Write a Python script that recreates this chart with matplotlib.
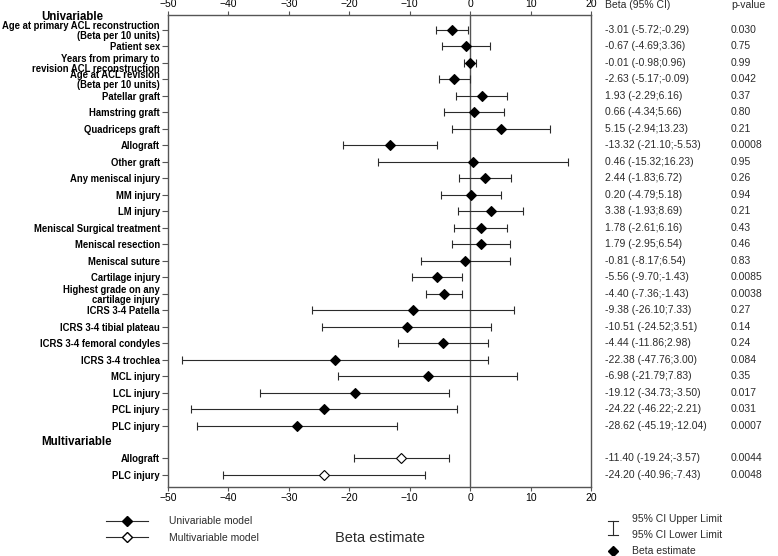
import numpy as np
import matplotlib.pyplot as plt
from matplotlib.lines import Line2D
from matplotlib.transforms import blended_transform_factory

plt.rcParams['font.family'] = ['Liberation Sans', 'DejaVu Sans']

# univariable rows
uni_labels = [
    "Age at primary ACL reconstruction\n(Beta per 10 units)",
    "Patient sex",
    "Years from primary to\nrevision ACL reconstruction",
    "Age at ACL revision\n(Beta per 10 units)",
    "Patellar graft", "Hamstring graft", "Quadriceps graft", "Allograft",
    "Other graft", "Any meniscal injury", "MM injury", "LM injury",
    "Meniscal Surgical treatment", "Meniscal resection", "Meniscal suture",
    "Cartilage injury", "Highest grade on any\ncartilage injury",
    "ICRS 3-4 Patella", "ICRS 3-4 tibial plateau", "ICRS 3-4 femoral condyles",
    "ICRS 3-4 trochlea", "MCL injury", "LCL injury", "PCL injury", "PLC injury",
]
uni_beta = [-3.01, -0.67, -0.01, -2.63, 1.93, 0.66, 5.15, -13.32, 0.46, 2.44, 0.20,
            3.38, 1.78, 1.79, -0.81, -5.56, -4.40, -9.38, -10.51, -4.44, -22.38,
            -6.98, -19.12, -24.22, -28.62]
uni_lo = [-5.72, -4.69, -0.98, -5.17, -2.29, -4.34, -2.94, -21.10, -15.32, -1.83, -4.79,
          -1.93, -2.61, -2.95, -8.17, -9.70, -7.36, -26.10, -24.52, -11.86, -47.76,
          -21.79, -34.73, -46.22, -45.19]
uni_hi = [-0.29, 3.36, 0.96, -0.09, 6.16, 5.66, 13.23, -5.53, 16.23, 6.72, 5.18,
          8.69, 6.16, 6.54, 6.54, -1.43, -1.43, 7.33, 3.51, 2.98, 3.00,
          7.83, -3.50, -2.21, -12.04]
uni_p = ["0.030", "0.75", "0.99", "0.042", "0.37", "0.80", "0.21", "0.0008", "0.95",
         "0.26", "0.94", "0.21", "0.43", "0.46", "0.83", "0.0085", "0.0038", "0.27",
         "0.14", "0.24", "0.084", "0.35", "0.017", "0.031", "0.0007"]

# multivariable rows
multi_labels = ["Allograft", "PLC injury"]
multi_beta = [-11.40, -24.20]
multi_lo = [-19.24, -40.96]
multi_hi = [-3.57, -7.43]
multi_p = ["0.0044", "0.0048"]

xticks = [-50, -40, -30, -20, -10, 0, 10, 20]

dark = '#2b2b2b'
fig = plt.figure(figsize=(7.78, 5.56), dpi=100)
ax = fig.add_axes([168 / 778, 1 - 487 / 556, (591 - 168) / 778, (487 - 15) / 556])

n_uni = len(uni_labels)
y_uni = np.arange(n_uni)
y_multi = np.arange(len(multi_labels)) + n_uni + 1

def draw(y, beta, lo, hi, face):
    beta = np.array(beta)
    err = [beta - np.array(lo), np.array(hi) - beta]
    ax.errorbar(beta, y, xerr=err, fmt='D', ms=5, mfc=face, mec='black', mew=0.8,
                ecolor=dark, elinewidth=0.8, capsize=3.2, capthick=0.8, zorder=3)

draw(y_uni, uni_beta, uni_lo, uni_hi, 'black')
draw(y_multi, multi_beta, multi_lo, multi_hi, 'white')

ax.axvline(0, color='#555555', lw=1.0, zorder=1)
ax.set_xlim(-50, 20)
ax.set_ylim(27.73, -0.91)
ax.set_xticks(xticks)
ax.tick_params(axis='x', top=True, labeltop=True, labelsize=7.5, length=3,
               color='#555555', pad=1)
ax.set_yticks(list(y_uni) + list(y_multi))
ax.set_yticklabels(uni_labels + multi_labels, fontweight='bold', fontsize=6.85,
                   multialignment='right', linespacing=1.0)
ax.tick_params(axis='y', length=4, color='#555555', pad=1.8)
for s in ax.spines.values():
    s.set_color('#555555')
    s.set_linewidth(1.0)

# section headings
tr = blended_transform_factory(fig.transFigure, ax.transData)
ax.text(41 / 778, -0.8, "Univariable", transform=tr, fontsize=8.3, fontweight='bold',
        va='center', ha='left', clip_on=False)
ax.text(41 / 778, n_uni, "Multivariable", transform=tr, fontsize=8.3, fontweight='bold',
        va='center', ha='left', clip_on=False)

# right columns
col1 = 605 / 778
col2 = 731 / 778
fig.text(col1, 1 - 5 / 556, "Beta (95% CI)", fontsize=7.5, va='center', color=dark)
fig.text(col2, 1 - 5 / 556, "p-value", fontsize=7.5, va='center', color=dark)
for y, b, lo, hi, p in zip(list(y_uni) + list(y_multi), uni_beta + multi_beta,
                           uni_lo + multi_lo, uni_hi + multi_hi, uni_p + multi_p):
    ax.text(col1, y, f"{b:.2f} ({lo:.2f};{hi:.2f})", transform=tr, fontsize=7.5,
            va='center', color=dark, clip_on=False)
    ax.text(col2, y, p, transform=tr, fontsize=7.5, va='center', color=dark,
            clip_on=False)

fig.text(380 / 778, 1 - 538 / 556, "Beta estimate", fontsize=10.5, ha='center',
         va='center', color=dark)

# left legend
handles = [
    Line2D([], [], color=dark, lw=0.8, marker='D', ms=5, mfc='black', mec='black'),
    Line2D([], [], color=dark, lw=0.8, marker='D', ms=5, mfc='white', mec='black'),
]
fig.legend(handles, ["Univariable model", "Multivariable model"], loc='upper left',
           bbox_to_anchor=(97 / 778, 1 - 507 / 556), frameon=False, fontsize=7.5,
           handlelength=4.0, handletextpad=2.0, labelspacing=0.6, labelcolor=dark)

# right legend
lx = 613 / 778
fig.add_artist(Line2D([lx, lx], [1 - 521 / 556, 1 - 535 / 556], color=dark, lw=0.8,
                      transform=fig.transFigure))
for yy in (521, 535):
    fig.add_artist(Line2D([lx - 5 / 778, lx + 5 / 778], [1 - yy / 556] * 2, color=dark,
                          lw=0.8, transform=fig.transFigure))
fig.add_artist(Line2D([lx], [1 - 551 / 556], marker='D', ms=5, color='black',
                      transform=fig.transFigure))
fig.text(632 / 778, 1 - 519 / 556, "95% CI Upper Limit", fontsize=7.5, va='center', color=dark)
fig.text(632 / 778, 1 - 535 / 556, "95% CI Lower Limit", fontsize=7.5, va='center', color=dark)
fig.text(632 / 778, 1 - 551 / 556, "Beta estimate", fontsize=7.5, va='center', color=dark)

fig.savefig('out.png', dpi=100)
